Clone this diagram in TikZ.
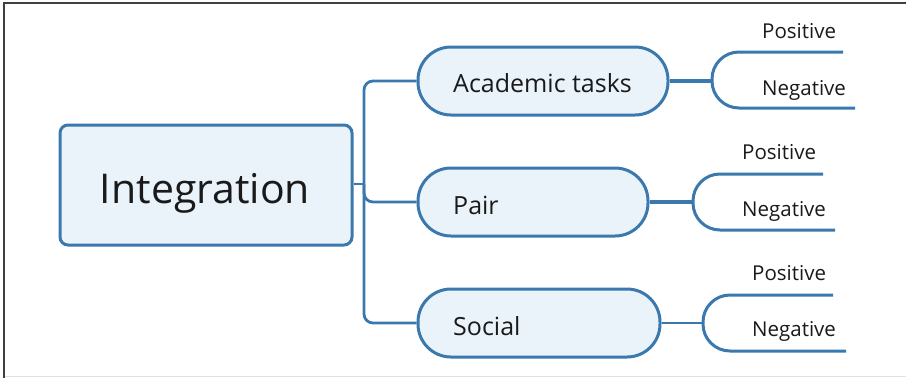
\documentclass[tikz,border=0pt]{standalone}
\usepackage{fontspec}
\setmainfont{Open Sans}
\definecolor{edge}{HTML}{3A78AE}
\definecolor{boxfill}{HTML}{EBF3FA}
\definecolor{ink}{HTML}{1A1A1A}
\begin{document}
\begin{tikzpicture}[x=1pt,y=-1pt,
  mainbox/.style={draw=edge,fill=boxfill,line width=3pt,rounded corners=8pt,minimum width=292pt,minimum height=120pt,inner sep=0pt},
  topicbox/.style={draw=edge,fill=boxfill,line width=3pt,minimum height=68pt,inner sep=0pt,rounded corners=33pt},
  conn/.style={draw=edge,line width=2.8pt},
  stubline/.style={draw=edge,line width=4pt},
  fork/.style={draw=edge,line width=3pt,rounded corners=27pt},
  toptext/.style={anchor=base west,inner sep=0pt,text=ink,font=\fontsize{25}{30}\selectfont},
  leaftext/.style={anchor=base west,inner sep=0pt,text=ink,font=\fontsize{20.5}{24}\selectfont}]
\useasboundingbox (0,0) rectangle (906,378);
% frame
\draw[black!75,line width=2pt] (4,378) -- (4,3) -- (906,3);
\draw[black!12,line width=1pt] (5,376.5) -- (906,376.5);

% main node
\node[mainbox] (int) at (206,185) {};
\node[anchor=base,inner sep=0pt,text=ink,font=\fontsize{41}{48}\selectfont] (intt) at (205,203) {Integration};

% topic boxes
\node[topicbox,minimum width=250pt] (acad) at (543,81) {};
\node[topicbox,minimum width=230pt] (pair) at (533,202) {};
\node[topicbox,minimum width=242pt] (soc) at (539,323) {};
\node[toptext] (acadt) at (453,92) {Academic tasks};
\node[toptext] (pairt) at (453,214) {Pair};
\node[toptext] (soct) at (453,335) {Social};

% trunk
\coordinate (j) at (364,184);
\draw[conn] (int.east |- j) -- (j);
\draw[conn,rounded corners=9pt] (acad.west) -- (364,81) -- (364,323) -- (soc.west);
\draw[conn,rounded corners=9pt] (j) -- (364,202) -- (pair.west);

% academic fork
\coordinate (fa) at (712,81);
\coordinate (fap) at (843,52);
\coordinate (fan) at (855,108);
\draw[stubline] (acad.east) -- (fa);
\draw[fork] (fap) -- (712,52) -- (712,108) -- (fan);
\node[leaftext] (ap) at (762,38) {Positive};
\node[leaftext] (an) at (762,95) {Negative};

% pair fork
\coordinate (fb) at (693,202);
\coordinate (fbp) at (823,174);
\coordinate (fbn) at (835,230);
\draw[stubline] (pair.east) -- (fb);
\draw[fork] (fbp) -- (693,174) -- (693,230) -- (fbn);
\node[leaftext] (bp) at (742,159) {Positive};
\node[leaftext] (bn) at (742,216) {Negative};

% social fork
\coordinate (fc) at (703,323);
\coordinate (fcp) at (833,295);
\coordinate (fcn) at (846,351);
\draw[conn] (soc.east) -- (fc);
\draw[fork] (fcp) -- (703,295) -- (703,351) -- (fcn);
\node[leaftext] (cp) at (752,280) {Positive};
\node[leaftext] (cn) at (752,336) {Negative};
\end{tikzpicture}
\end{document}
